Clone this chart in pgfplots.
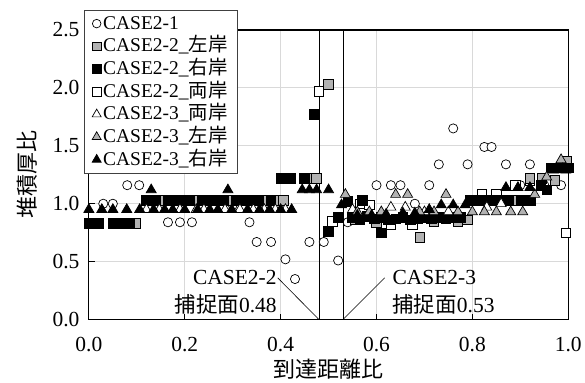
\documentclass[border=0pt]{standalone}
\usepackage{fontspec}
\setmainfont{Liberation Serif}
\newfontfamily\cjk{Noto Sans CJK JP}
\usepackage{pgfplots}
\pgfplotsset{compat=1.18}

\definecolor{markgray}{RGB}{178,178,178}
\definecolor{gridgray}{RGB}{217,217,217}

\pgfplotsset{
  dotlegend/.style={legend image code/.code={%
    \draw[mark repeat=2,mark phase=2,##1] plot coordinates {(0pt,0pt)(5pt,0pt)(10pt,0pt)};}},
  circ/.style={only marks, mark=*, mark size=4.6pt,
    mark options={fill=white, draw=black, line width=0.7pt}},
  sqopen/.style={only marks, mark=square*, mark size=4.8pt,
    mark options={fill=white, draw=black, line width=0.7pt}},
  sqgray/.style={only marks, mark=square*, mark size=4.8pt,
    mark options={fill=markgray, draw=black, line width=0.7pt}},
  sqblack/.style={only marks, mark=square*, mark size=4.8pt,
    mark options={fill=black, draw=black, line width=0.7pt}},
  triopen/.style={only marks, mark=triangle*, mark size=5.8pt,
    mark options={fill=white, draw=black, line width=0.7pt}},
  trigray/.style={only marks, mark=triangle*, mark size=5.8pt,
    mark options={fill=markgray, draw=black, line width=0.7pt}},
  triblack/.style={only marks, mark=triangle*, mark size=5.8pt,
    mark options={fill=black, draw=black, line width=0.7pt}},
}

\begin{document}
\begin{tikzpicture}
\begin{axis}[
  name=ax,
  scale only axis, width=480pt, height=290pt,
  xmin=0, xmax=1, ymin=0, ymax=2.5,
  xtick={0,0.2,0.4,0.6,0.8,1.0},
  ytick={0,0.5,1.0,1.5,2.0,2.5},
  /pgf/number format/fixed,
  /pgf/number format/fixed zerofill,
  /pgf/number format/precision=1,
  /pgf/number format/assume math mode=true,
  tick label style={font=\fontsize{21.5}{24}\selectfont},
  xticklabel style={yshift=-14pt},
  yticklabel style={xshift=-6pt},
  grid=major, grid style={gridgray, line width=0.9pt},
  axis line style={black, line width=1.1pt},
  tick pos=left, tick align=inside, major tick length=6pt,
  tick style={black, line width=0.8pt},
  xlabel={\cjk 到達距離比}, ylabel={\cjk 堆積厚比},
  label style={font=\fontsize{22}{24}\selectfont},
  xlabel style={at={(axis description cs:0.5,-0.172)}, anchor=center},
  ylabel style={at={(axis description cs:-0.128,0.5)}, anchor=center},
  clip=false,
  legend cell align=left,
  legend style={
    at={(axis description cs:-0.0104,1.069)}, anchor=north west,
    draw=black!75, line width=0.6pt, fill=white,
    font=\fontsize{19.5}{22}\selectfont,
    inner xsep=8pt, inner ysep=2pt, row sep=0pt,
    nodes={text height=15.5pt, text depth=4.2pt, inner xsep=2pt, inner ysep=1.5pt},
    /tikz/every even column/.append style={column sep=4pt},
  },
]

% CASE2-1
\addplot[circ, forget plot] coordinates {
 (0.03,1.00)(0.05,1.00)(0.08,1.16)(0.105,1.16)(0.14,0.99)(0.165,0.84)(0.19,0.84)
 (0.215,0.84)(0.30,0.99)(0.335,0.84)(0.35,0.67)(0.38,0.67)(0.41,0.52)(0.43,0.35)
 (0.46,0.67)(0.49,0.67)(0.52,0.51)(0.54,0.84)(0.60,1.16)(0.63,1.16)(0.65,1.16)
 (0.68,1.00)(0.71,1.16)(0.73,1.34)(0.76,1.65)(0.79,1.34)(0.825,1.49)(0.84,1.49)
 (0.87,1.34)(0.90,1.16)(0.92,1.34)(0.95,1.16)(0.985,1.16)
};
% CASE2-2 both banks
\addplot[sqopen, forget plot] coordinates {
 (0.48,1.97)(0.508,0.85)(0.565,1.00)(0.585,0.99)(0.63,0.82)(0.675,0.82)
 (0.82,1.08)(0.85,1.08)(0.89,1.16)(0.92,1.20)(0.995,0.75)
};
% CASE2-2 left bank
\addplot[sqgray, forget plot] coordinates {
 (0.097,0.83)(0.152,1.03)(0.224,1.03)(0.294,1.03)(0.367,1.03)(0.398,1.03)(0.406,1.03)
 (0.466,1.22)(0.474,1.22)(0.50,2.03)
 (0.555,0.86)(0.60,0.84)(0.63,0.86)(0.69,0.71)(0.72,0.85)(0.77,0.85)(0.79,0.86)
 (0.888,1.03)(0.92,1.22)(0.945,1.22)(0.972,1.20)(0.997,1.37)
};
% CASE2-2 right bank
\addplot[sqblack, forget plot] coordinates {
 (0.00,0.83)(0.02,0.83)(0.05,0.83)(0.068,0.83)(0.085,0.83)
 (0.12,1.03)(0.139,1.03)(0.165,1.03)(0.18,1.03)(0.196,1.03)(0.211,1.03)(0.237,1.03)
 (0.255,1.03)(0.27,1.03)(0.281,1.03)(0.307,1.03)(0.325,1.03)(0.34,1.03)(0.354,1.03)
 (0.380,1.03)
 (0.402,1.22)(0.42,1.22)(0.449,1.22)
 (0.47,1.77)
 (0.50,0.76)(0.52,0.88)(0.54,1.02)(0.57,1.03)(0.61,0.75)
 (0.55,0.88)(0.565,0.86)(0.58,0.89)(0.595,0.87)(0.61,0.88)(0.625,0.86)(0.64,0.87)
 (0.655,0.88)(0.67,0.86)(0.685,0.87)(0.70,0.88)(0.715,0.87)(0.73,0.88)(0.745,0.87)
 (0.76,0.88)(0.775,0.88)
 (0.795,1.03)(0.815,1.03)(0.835,1.03)(0.855,1.03)(0.875,1.03)(0.901,1.03)(0.921,1.03)
 (0.943,1.16)(0.955,1.12)(0.965,1.31)(0.985,1.31)(1.00,1.31)
};
% CASE2-3 both banks
\addplot[triopen, forget plot] coordinates {
 (0.12,0.95)(0.147,0.95)(0.19,0.95)(0.224,0.95)(0.24,0.95)(0.284,0.95)(0.315,0.95)
 (0.343,0.95)(0.366,0.95)(0.389,0.95)(0.41,0.95)
 (0.55,0.95)(0.63,0.97)(0.66,0.97)(0.70,0.93)(0.75,0.93)(0.83,0.97)(0.86,1.00)
};
% CASE2-3 left bank
\addplot[trigray, forget plot] coordinates {
 (0.535,1.08)(0.56,0.93)(0.585,0.93)(0.61,0.93)(0.64,1.08)(0.665,1.08)(0.69,0.93)
 (0.72,0.93)(0.745,1.08)(0.77,0.93)(0.80,0.93)(0.825,0.93)(0.85,0.93)(0.88,0.93)
 (0.905,0.93)(0.93,1.08)(0.955,1.23)(0.985,1.38)
};
% CASE2-3 right bank
\addplot[triblack, forget plot] coordinates {
 (0.00,0.95)(0.027,0.95)(0.05,0.95)(0.079,0.95)(0.106,0.95)(0.135,0.95)(0.158,0.95)
 (0.175,0.95)(0.20,0.95)(0.227,0.95)(0.252,0.95)(0.269,0.95)(0.298,0.95)(0.331,0.95)
 (0.356,0.95)(0.377,0.95)(0.40,0.95)(0.423,0.95)
 (0.13,1.12)(0.29,1.12)(0.445,1.12)(0.46,1.12)(0.475,1.12)(0.50,1.12)
 (0.527,0.99)(0.56,0.90)(0.59,0.90)(0.62,0.91)(0.655,0.92)(0.68,0.92)(0.71,0.95)
 (0.735,0.99)(0.76,0.99)(0.785,0.99)(0.87,1.14)(0.895,1.14)(0.92,1.14)
 (0.97,1.29)(0.995,1.29)
};

% capture planes and their call-outs
\addplot[black, line width=0.8pt, forget plot] coordinates {(0.48,0) (0.48,2.5)};
\addplot[black, line width=0.8pt, forget plot] coordinates {(0.53,0) (0.53,2.5)};
\addplot[black, line width=0.6pt, forget plot] coordinates {(0.394,0.36) (0.48,0)};
\addplot[black, line width=0.6pt, forget plot] coordinates {(0.617,0.36) (0.53,0)};
\node[anchor=east, inner sep=0pt, font=\fontsize{21.5}{24}\selectfont]
  at (axis cs:0.392,0.36) {CASE2-2};
\node[anchor=east, inner sep=0pt, font=\fontsize{21.5}{24}\selectfont]
  at (axis cs:0.392,0.135) {{\cjk 捕捉面}0.48};
\node[anchor=west, inner sep=0pt, font=\fontsize{21.5}{24}\selectfont]
  at (axis cs:0.633,0.36) {CASE2-3};
\node[anchor=west, inner sep=0pt, font=\fontsize{21.5}{24}\selectfont]
  at (axis cs:0.633,0.135) {{\cjk 捕捉面}0.53};

% legend
\addlegendimage{circ, mark size=4.3pt, dotlegend}
\addlegendentry{CASE2-1}
\addlegendimage{sqgray, mark size=4.3pt, dotlegend}
\addlegendentry{CASE2-2\_{\cjk 左岸}}
\addlegendimage{sqblack, mark size=4.3pt, dotlegend}
\addlegendentry{CASE2-2\_{\cjk 右岸}}
\addlegendimage{sqopen, mark size=4.3pt, dotlegend}
\addlegendentry{CASE2-2\_{\cjk 両岸}}
\addlegendimage{triopen, mark size=5.2pt, dotlegend}
\addlegendentry{CASE2-3\_{\cjk 両岸}}
\addlegendimage{trigray, mark size=5.2pt, dotlegend}
\addlegendentry{CASE2-3\_{\cjk 左岸}}
\addlegendimage{triblack, mark size=5.2pt, dotlegend}
\addlegendentry{CASE2-3\_{\cjk 右岸}}
\end{axis}
\path ([shift={(-89pt,-56pt)}]ax.south west) rectangle ([shift={(16pt,30pt)}]ax.north east);
\end{tikzpicture}
\end{document}
